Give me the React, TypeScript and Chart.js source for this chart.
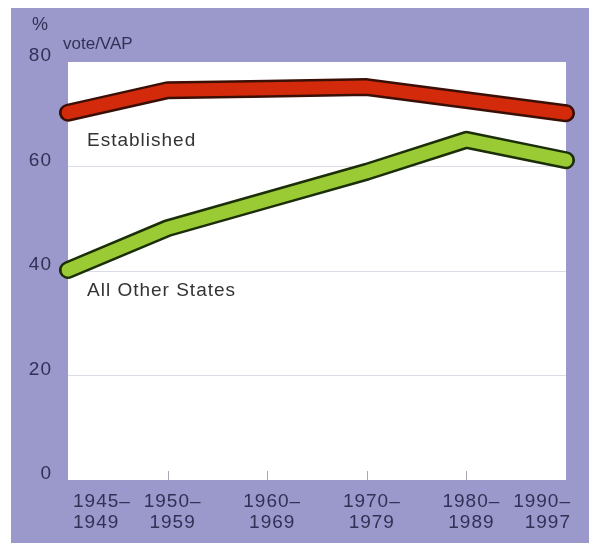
import { useEffect, useRef } from "react";
import { Chart, registerables } from "chart.js";
Chart.register(...registerables);

const periodLabels: string[][] = [
  ["1945–", "1949"],
  ["1950–", "1959"],
  ["1960–", "1969"],
  ["1970–", "1979"],
  ["1980–", "1989"],
  ["1990–", "1997"],
];
const established = [70.3, 74.6, 74.9, 75.2, 72.7, 70.2];
const allOtherStates = [40.2, 48.2, 53.6, 59.0, 65.1, 61.2];
const yTickValues = [0, 20, 40, 60, 80];
const seriesNames = ["Established", "All Other States"];
const unitLabel = "%";
const axisTitle = "vote/VAP";

const PURPLE = "#9b99cc";
const TEXT = "#2f3155";
const FONT = "'Liberation Sans', Arial, sans-serif";

export default function App() {
  const ref = useRef<HTMLCanvasElement | null>(null);
  useEffect(() => {
    if (!ref.current) return;
    const bgPlugin = {
      id: "bg",
      beforeDraw(chart: any) {
        const { ctx, chartArea } = chart;
        ctx.save();
        ctx.fillStyle = PURPLE;
        ctx.fillRect(0, 0, chart.width, chart.height);
        ctx.fillStyle = "#ffffff";
        ctx.fillRect(chartArea.left, chartArea.top, chartArea.right - chartArea.left, chartArea.bottom - chartArea.top);
        ctx.restore();
        (ctx as any).letterSpacing = "1px";
      },
      beforeDatasetsDraw(chart: any) {
        const { ctx, chartArea } = chart;
        const xs = chart.scales.x;
        ctx.save();
        ctx.strokeStyle = "#a8a8b4";
        ctx.lineWidth = 1;
        for (let i = 1; i < periodLabels.length - 1; i++) {
          const x = Math.round(xs.getPixelForTick(i)) + 0.5;
          ctx.beginPath();
          ctx.moveTo(x, chartArea.bottom - 9);
          ctx.lineTo(x, chartArea.bottom);
          ctx.stroke();
        }
        ctx.restore();
      },
      afterDraw(chart: any) {
        const { ctx, chartArea } = chart;
        const ys = chart.scales.y;
        ctx.save();
        (ctx as any).letterSpacing = "1px";
        ctx.fillStyle = "#333333";
        ctx.font = `19px ${FONT}`;
        ctx.textAlign = "left";
        ctx.textBaseline = "middle";
        ctx.fillText(seriesNames[0], chartArea.left + 19, ys.getPixelForValue(64.9));
        ctx.fillText(seriesNames[1], chartArea.left + 19, ys.getPixelForValue(36.2));
        ctx.fillStyle = TEXT;
        ctx.font = `17px ${FONT}`;
        (ctx as any).letterSpacing = "0px";
        ctx.fillText(axisTitle, chartArea.left - 5, chartArea.top - 18);
        ctx.font = `18px ${FONT}`;
        ctx.fillText(unitLabel, 21, chartArea.top - 37);
        ctx.restore();
      },
    };

    const chart = new Chart(ref.current, {
      type: "line",
      data: {
        labels: periodLabels,
        datasets: [
          {
            label: seriesNames[0],
            data: established,
            borderColor: "#d42a0c",
            borderWidth: 13,
            order: 0,
          },
          {
            label: seriesNames[1],
            data: allOtherStates,
            borderColor: "#9acb34",
            borderWidth: 13,
            order: 0,
          },
          {
            label: seriesNames[0] + " outline",
            data: established,
            borderColor: "#3a0f05",
            borderWidth: 18,
            order: 1,
          },
          {
            label: seriesNames[1] + " outline",
            data: allOtherStates,
            borderColor: "#1c2e08",
            borderWidth: 18,
            order: 1,
          },
        ].map((d) => ({
          ...d,
          pointRadius: 0,
          tension: 0,
          fill: false,
          borderCapStyle: "round" as const,
          borderJoinStyle: "round" as const,
        })),
      },
      options: {
        responsive: false,
        animation: false,
        devicePixelRatio: 1,
        layout: { padding: { top: 54, right: 23, left: 0, bottom: 0 } },
        plugins: { legend: { display: false }, tooltip: { enabled: false } },
        scales: {
          x: {
            type: "category",
            offset: false,
            grid: { display: false, drawTicks: false },
            border: { display: false },
            ticks: {
              align: "inner",
              labelOffset: 5,
              padding: 11,
              color: TEXT,
              maxRotation: 0,
              autoSkip: false,
              font: { family: FONT, size: 19, lineHeight: 1.1 },
            },
            afterFit(s: any) {
              s.height = 63;
              s.paddingLeft = 0;
              s.paddingRight = 0;
            },
          },
          y: {
            min: 0,
            max: 80,
            afterBuildTicks(s: any) {
              s.ticks = yTickValues.map((v) => ({ value: v }));
            },
            grid: {
              drawTicks: false,
              lineWidth: 1,
              color: (c: any) =>
                c.tick && c.tick.value > 0 && c.tick.value < 80 ? "#dcdce6" : "rgba(0,0,0,0)",
            },
            border: { display: false },
            ticks: {
              padding: 16,
              labelOffset: -6,
              color: TEXT,
              font: { family: FONT, size: 19 },
            },
            afterFit(s: any) {
              s.width = 57;
              s.paddingTop = 0;
              s.paddingBottom = 0;
            },
          },
        },
      },
      plugins: [bgPlugin],
    });
    return () => chart.destroy();
  }, []);

  return (
    <div style={{ position: "fixed", left: 11, top: 8, width: 578, height: 535 }}>
      <canvas ref={ref} width={578} height={535} style={{ display: "block" }} />
    </div>
  );
}
